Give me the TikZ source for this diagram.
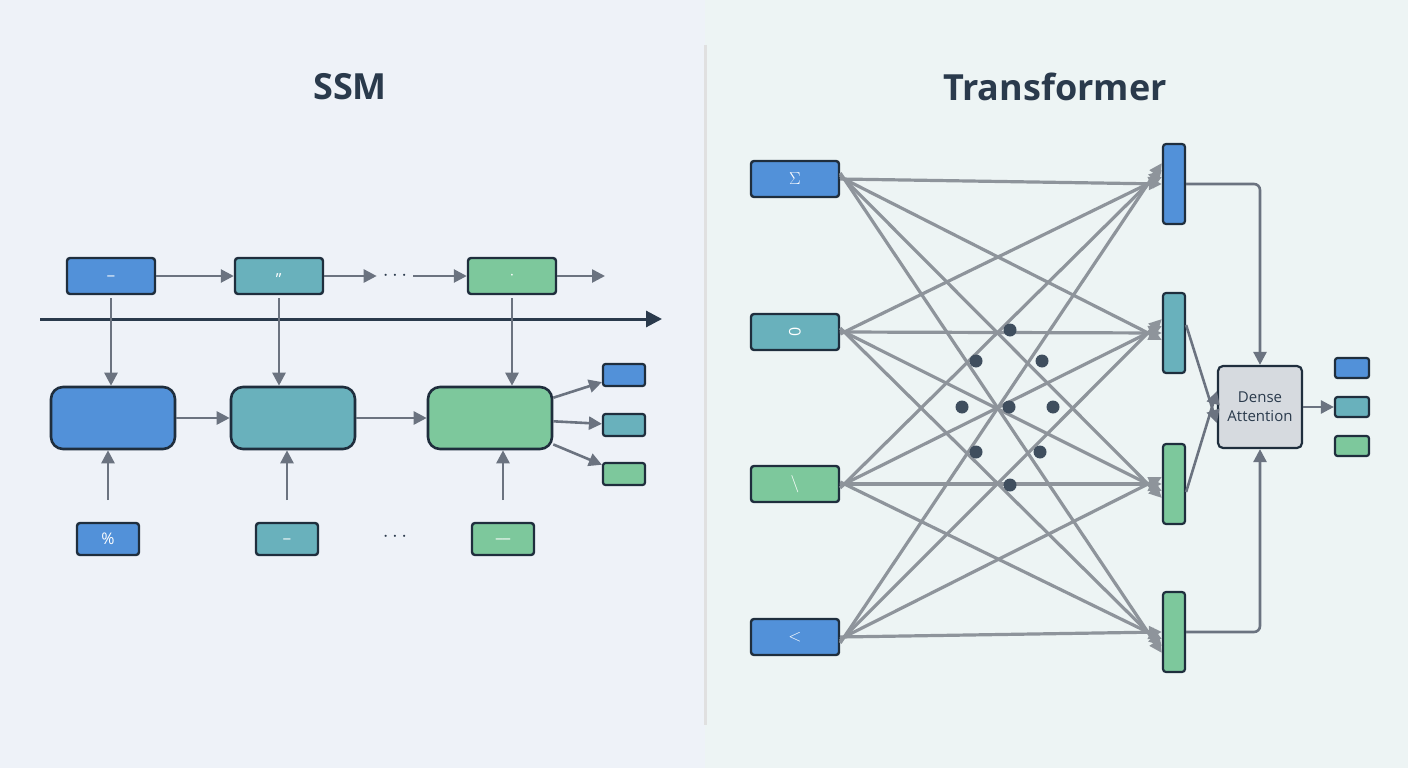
\documentclass[tikz,border=0pt]{standalone}
\usepackage{fontspec}
\setmainfont{Open Sans}
\usetikzlibrary{arrows.meta,positioning}
\definecolor{bgl}{HTML}{EEF2F8}
\definecolor{bgr}{HTML}{EDF4F4}
\definecolor{cblue}{HTML}{5291D9}
\definecolor{cteal}{HTML}{69B1BC}
\definecolor{cgreen}{HTML}{7DC89C}
\definecolor{edge}{HTML}{1F2E3D}
\definecolor{arr}{HTML}{6B7380}
\definecolor{web}{HTML}{8E949B}
\definecolor{ink}{HTML}{2A3A4C}
\tikzset{
  box/.style={draw=edge, line width=2.4pt, rounded corners=3pt, minimum width=88pt, minimum height=36pt, text=white, font=\fontsize{16}{18}\selectfont},
  block/.style={draw=edge, line width=2.6pt, rounded corners=12pt, minimum width=124pt, minimum height=62pt},
  tok/.style={draw=edge, line width=2.2pt, rounded corners=2.5pt, minimum width=42pt, minimum height=22pt},
  bar/.style={draw=edge, line width=2.2pt, rounded corners=3pt, minimum width=22pt, minimum height=80pt},
  flow/.style={draw=arr, line width=2.6pt, -{Triangle[length=13pt,width=13pt]}},
  link/.style={draw=web, line width=3.2pt, -{Triangle[length=13pt,width=12pt]}},
  hid/.style={circle, fill=ink!90, inner sep=0pt, minimum size=13pt},
  dots/.style={font=\fontsize{22}{22}\selectfont, text=ink, inner sep=6pt},
  title/.style={font=\fontsize{36}{40}\selectfont\bfseries, text=ink}
}
\begin{document}
\begin{tikzpicture}[x=1pt,y=-1pt]
    \fill[bgl] (0,0) rectangle (705,768);
    \fill[bgr] (705,0) rectangle (1408,768);
    \useasboundingbox (0,0) rectangle (1408,768);
    \draw[black!12, line width=3pt] (705,45) -- (705,725);

    % SSM side
    \node[title] (ssm) at (350,87) {SSM};
    \node[box, fill=cblue] (t1) at (111,276) {\_};
    \node[box, fill=cteal] (t2) at (279,276) {,,};
    \node[box, fill=cgreen] (t3) at (512,276) {$\cdot$};
    \node[dots] (tdots) at (395,276) {$\cdots$};
    \coordinate (tend) at (605,276);
    \draw[flow] (t1) -- (t2);
    \draw[flow] (t2.east) -- (tdots.west);
    \draw[flow] (tdots.east) -- (t3.west);
    \draw[flow] (t3) -- (tend);

    \coordinate (ta) at (40,319);
    \coordinate (tb) at (662,319);
    \draw[ink, line width=3pt, -{Triangle[length=16pt,width=16pt]}] (ta) -- (tb);

    \node[block, fill=cblue] (m1) at (113,418) {};
    \node[block, fill=cteal] (m2) at (293,418) {};
    \node[block, fill=cgreen] (m3) at (490,418) {};
    \draw[flow] (m1) -- (m2);
    \draw[flow] (m2) -- (m3);

    \node[tok, fill=cblue] (o1) at (624,375) {};
    \node[tok, fill=cteal] (o2) at (624,425) {};
    \node[tok, fill=cgreen] (o3) at (624,474) {};
    \foreach \o in {o1,o2,o3}
        \draw[flow] (m3) -- (\o);

    \node[box, fill=cblue, minimum width=62pt, minimum height=32pt] (b1) at (108,539) {\%};
    \node[box, fill=cteal, minimum width=62pt, minimum height=32pt] (b2) at (287,539) {\_};
    \node[box, fill=cgreen, minimum width=62pt, minimum height=32pt] (b3) at (503,539) {\_\_};
    \node[dots] (bdots) at (395,537) {$\cdots$};

    \draw[flow] (t1.south |- 0,298) -- (m1.north -| t1.south);
    \draw[flow] (t2.south |- 0,298) -- (m2.north -| t2.south);
    \draw[flow] (t3.south |- 0,298) -- (m3.north -| t3.south);
    \draw[flow] (b1.north |- 0,500) -- (m1.south -| b1.north);
    \draw[flow] (b2.north |- 0,500) -- (m2.south -| b2.north);
    \draw[flow] (b3.north |- 0,500) -- (m3.south -| b3.north);

    % Transformer side
    \node[title] (tf) at (1055,87) {Transformer};
    \node[box, fill=cblue] (i1) at (795,179) {$\Sigma$};
    \node[box, fill=cteal] (i2) at (795,332) {\rotatebox{90}{0}};
    \node[box, fill=cgreen] (i3) at (795,484) {$\backslash$};
    \node[box, fill=cblue] (i4) at (795,637) {$<$};
    \node[bar, fill=cblue] (q1) at (1174,184) {};
    \node[bar, fill=cteal] (q2) at (1174,333) {};
    \node[bar, fill=cgreen] (q3) at (1174,484) {};
    \node[bar, fill=cgreen] (q4) at (1174,632) {};

    \foreach \i in {1,...,4}
        \foreach \j in {1,...,4}
            \draw[link] ([yshift=(\j-\i)*2pt]i\i.east) -- ([yshift=(\i-\j)*7pt]q\j.west);

    \foreach \n/\x/\y in {h1/1010/330, h2/976/361, h3/1042/361, h4/962/407, h5/1009/407,
                          h6/1053/407, h7/976/452, h8/1040/452, h9/1010/485}
        \node[hid] (\n) at (\x,\y) {};

    \node[draw=edge, line width=2.2pt, rounded corners=5pt, fill=black!10!bgl,
          minimum width=84pt, minimum height=82pt, align=center,
          font=\fontsize{15}{19}\selectfont, text=ink]
          (da) at (1260,407) {Dense\\Attention};
    \draw[flow, rounded corners=6pt] (q1.east) -- (q1.east -| da.north) -- (da.north);
    \draw[flow, rounded corners=6pt] (q4.east) -- (q4.east -| da.south) -- (da.south);
    \draw[flow] ([yshift=8pt]q2.east) -- ([yshift=-16pt]da.west);
    \draw[flow] ([yshift=-8pt]q3.east) -- ([yshift=16pt]da.west);

    \node[tok, fill=cblue, minimum width=34pt, minimum height=20pt] (r1) at (1352,368) {};
    \node[tok, fill=cteal, minimum width=34pt, minimum height=20pt] (r2) at (1352,407) {};
    \node[tok, fill=cgreen, minimum width=34pt, minimum height=20pt] (r3) at (1352,446) {};
    \draw[flow] (da) -- (r2);
\end{tikzpicture}
\end{document}
